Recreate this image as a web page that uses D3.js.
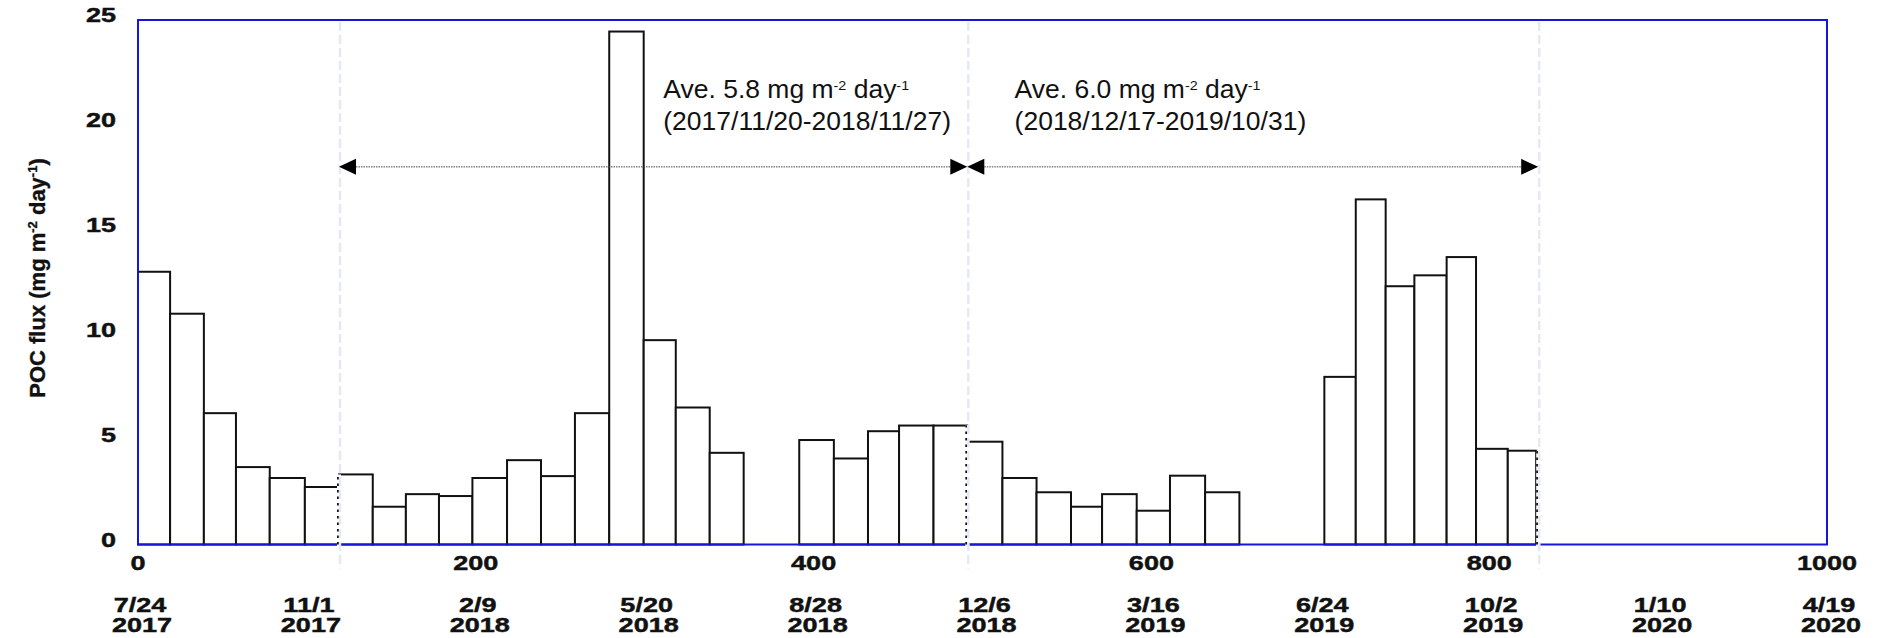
<!DOCTYPE html>
<html>
<head>
<meta charset="utf-8">
<script src="https://cdn.jsdelivr.net/npm/d3@7"></script>
<style>
  body { margin: 0; background: #fff; }
  svg { display: block; }
</style>
</head>
<body>
<svg id="chart" width="1892" height="638"></svg>
<script>
// ---------------------------------------------------------------------------
// Data (days counted from 2017/7/24)

// sediment trap cups: opening day, closing day, POC flux (mg m-2 day-1)
const cupOpenDay = [0, 19, 39, 58, 78, 98.8,
  119, 139, 158.6, 178.2, 198, 218.5, 238.6, 258.7, 279, 299.4, 318.4, 338.5,
  391.5, 412, 432.2, 450.6, 471,
  491, 511.8, 532, 552.4, 570.8, 591.3, 611, 631.8,
  702.4, 721, 738.7, 755.7, 774.8, 792.2, 811];
const cupCloseDay = [19, 39, 58, 78, 98.8, 119,
  139, 158.6, 178.2, 198, 218.5, 238.6, 258.7, 279, 299.4, 318.4, 338.5, 358.6,
  412, 432.2, 450.6, 471, 491,
  511.8, 532, 552.4, 570.8, 591.3, 611, 631.8, 652.1,
  721, 738.7, 755.7, 774.8, 792.2, 811, 827.8];
const pocFlux = [13.0, 11.0, 6.26, 3.69, 3.17, 2.74,
  3.34, 1.80, 2.40, 2.31, 3.17, 4.02, 3.26, 6.26, 24.45, 9.74, 6.53, 4.37,
  4.98, 4.10, 5.40, 5.67, 5.67,
  4.90, 3.17, 2.49, 1.80, 2.40, 1.61, 3.28, 2.49,
  7.99, 16.45, 12.31, 12.83, 13.70, 4.56, 4.47];

// averaging periods
const periodMarkDays = [119, 491, 829];
const avePeriodStart = [119, 491];
const avePeriodEnd = [491, 829];
const aveValue = ['5.8', '6.0'];
const aveRange = ['2017/11/20-2018/11/27', '2018/12/17-2019/10/31'];
const arrowLevel = 18;

// axes
const yTicks = [0, 5, 10, 15, 20, 25];
const xTicks = [0, 200, 400, 600, 800, 1000];
const dateTickDays = [0, 100, 200, 300, 400, 500, 600, 700, 800, 900, 1000];
const dateTickDay = ['7/24', '11/1', '2/9', '5/20', '8/28', '12/6', '3/16', '6/24', '10/2', '1/10', '4/19'];
const dateTickYear = ['2017', '2017', '2018', '2018', '2018', '2018', '2019', '2019', '2019', '2020', '2020'];

// ---------------------------------------------------------------------------
// Layout

const margin = { left: 138, right: 65, top: 20, bottom: 93.5 };
const width = 1892 - margin.left - margin.right;
const height = 638 - margin.top - margin.bottom;
const frameColor = '#1616d8';
const markColor = '#e6e8f6';
const font = '"Liberation Sans", Arial, Helvetica, sans-serif';
const labelStretch = 1.32;   // bold tick labels are drawn wide
const noteStretch = 1.06;
const noteStartDay = [311, 519];

const svg = d3.select('#chart');
const g = svg.append('g').attr('transform', `translate(${margin.left},${margin.top})`);

const x = d3.scaleLinear().domain([0, 1000]).range([0, width]);
const y = d3.scaleLinear().domain([0, 25]).range([height, 0]);

const cups = pocFlux.map((v, i) => ({ open: cupOpenDay[i], close: cupCloseDay[i], flux: v }));

// bold text helper
function boldLabels(sel) {
  return sel
    .attr('font-family', font)
    .attr('font-weight', 'bold')
    .attr('font-size', 20.5)
    .attr('fill', '#111')
    .attr('stroke', '#111')
    .attr('stroke-width', 0.45);
}

// bars
g.append('g')
  .selectAll('rect')
  .data(cups)
  .enter()
  .append('rect')
  .attr('x', d => x(d.open))
  .attr('y', d => y(d.flux))
  .attr('width', d => x(d.close) - x(d.open))
  .attr('height', d => y(0) - y(d.flux))
  .attr('fill', '#fff')
  .attr('stroke', '#111')
  .attr('stroke-width', 2);

// frame
g.append('rect')
  .attr('x', 0)
  .attr('y', 0)
  .attr('width', width)
  .attr('height', height)
  .attr('fill', 'none')
  .attr('stroke', frameColor)
  .attr('stroke-width', 2);

// period marks: dotted cup edge + light dashed guide
periodMarkDays.forEach(day => {
  let near = cups.filter(c => Math.abs(c.open - day) < 1.5 || Math.abs(c.close - day) < 1.5);
  let top = d3.max(near, c => c.flux);
  g.append('line')
    .attr('x1', x(day)).attr('x2', x(day))
    .attr('y1', y(0) + 2).attr('y2', y(top))
    .attr('stroke', '#fff')
    .attr('stroke-width', 4);
  g.append('line')
    .attr('x1', x(day) - 1).attr('x2', x(day) - 1)
    .attr('y1', y(0)).attr('y2', y(top))
    .attr('stroke', '#111')
    .attr('stroke-width', 2)
    .attr('stroke-dasharray', '2.5,4');
  g.append('line')
    .attr('x1', x(day) + 1).attr('x2', x(day) + 1)
    .attr('y1', 2).attr('y2', height + 24)
    .attr('stroke', markColor)
    .attr('stroke-width', 2.5)
    .attr('stroke-dasharray', '9,4');
});

// average arrows
const arrowLen = 17;
const arrowHalf = 8;
avePeriodStart.forEach((start, i) => {
  let x0 = x(start);
  let x1 = x(avePeriodEnd[i]);
  let ay = y(arrowLevel);
  g.append('line')
    .attr('x1', x0 + arrowLen).attr('x2', x1 - arrowLen)
    .attr('y1', ay).attr('y2', ay)
    .attr('stroke', '#444')
    .attr('stroke-width', 1)
    .attr('stroke-dasharray', '1.5,1');
  g.append('path')
    .attr('d', `M${x0},${ay} L${x0 + arrowLen},${ay - arrowHalf} L${x0 + arrowLen},${ay + arrowHalf} Z`)
    .attr('fill', '#000');
  g.append('path')
    .attr('d', `M${x1},${ay} L${x1 - arrowLen},${ay - arrowHalf} L${x1 - arrowLen},${ay + arrowHalf} Z`)
    .attr('fill', '#000');

  let note = g.append('g')
    .attr('font-family', font)
    .attr('font-size', 25)
    .attr('fill', '#111');
  let line1 = note.append('text')
    .attr('transform', `translate(${x(noteStartDay[i])},${78}) scale(${noteStretch},1)`);
  line1.append('tspan').text(`Ave. ${aveValue[i]} mg m`);
  line1.append('tspan').attr('font-size', 13.5).attr('dy', -8).text('-2');
  line1.append('tspan').attr('dy', 8).text(' day');
  line1.append('tspan').attr('font-size', 13.5).attr('dy', -8).text('-1');
  note.append('text')
    .attr('transform', `translate(${x(noteStartDay[i])},${110}) scale(${noteStretch},1)`)
    .text(`(${aveRange[i]})`);
});

// y tick labels
g.append('g')
  .selectAll('text')
  .data(yTicks)
  .enter()
  .append('text')
  .attr('transform', d => `translate(${-22},${y(d) + 2}) scale(${labelStretch},1)`)
  .attr('text-anchor', 'end')
  .call(boldLabels)
  .text(d => d);

// x tick labels
g.append('g')
  .selectAll('text')
  .data(xTicks)
  .enter()
  .append('text')
  .attr('transform', d => `translate(${x(d)},${height + 25.5}) scale(${labelStretch},1)`)
  .attr('text-anchor', 'middle')
  .call(boldLabels)
  .text(d => d);

// date labels
const dates = g.append('g')
  .attr('text-anchor', 'middle')
  .call(boldLabels);
dateTickDays.forEach((day, i) => {
  dates.append('text')
    .attr('transform', `translate(${x(day) + 2},${height + 67.5}) scale(${labelStretch},1)`)
    .text(dateTickDay[i]);
  dates.append('text')
    .attr('transform', `translate(${x(day) + 4},${height + 87.5}) scale(${labelStretch},1)`)
    .text(dateTickYear[i]);
});

// y axis title
const title = svg.append('text')
  .attr('transform', `translate(45,${margin.top + 258}) rotate(-90)`)
  .attr('text-anchor', 'middle')
  .attr('font-family', font)
  .attr('font-weight', 'bold')
  .attr('font-size', 22)
  .attr('fill', '#111')
  .attr('stroke', '#111')
  .attr('stroke-width', 0.35);
title.append('tspan').text('POC flux (mg m');
title.append('tspan').attr('font-size', 13).attr('dy', -8).text('-2');
title.append('tspan').attr('dy', 8).text(' day');
title.append('tspan').attr('font-size', 13).attr('dy', -8).text('-1');
title.append('tspan').attr('dy', 8).text(')');
</script>
</body>
</html>
